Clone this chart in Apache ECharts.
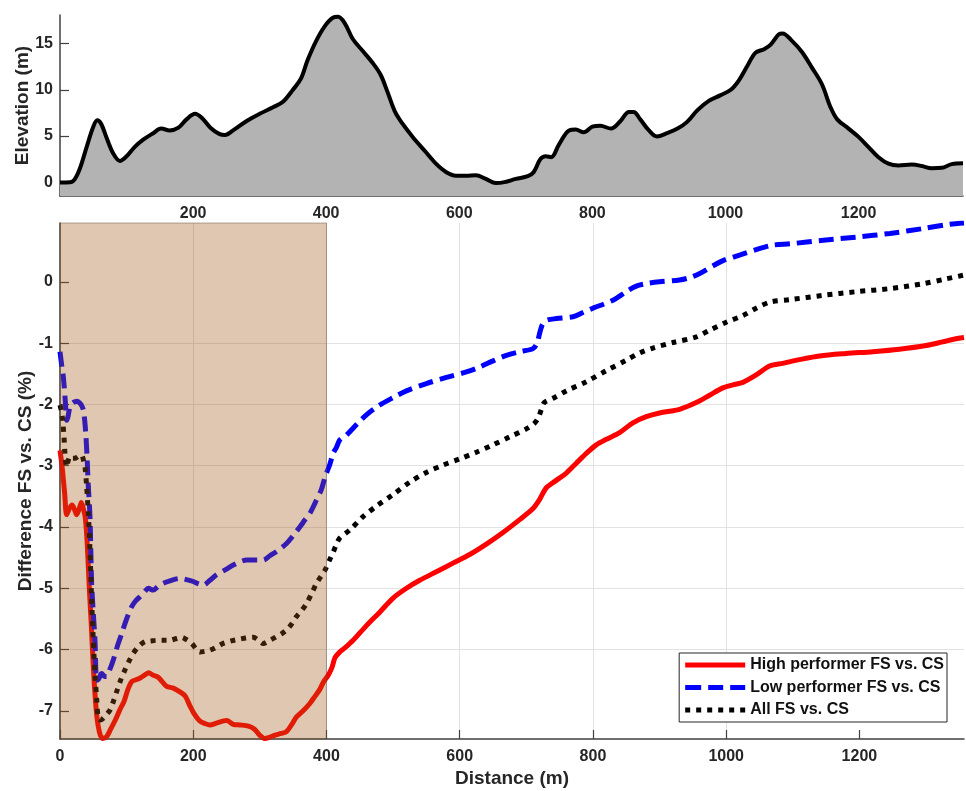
<!DOCTYPE html>
<html>
<head>
<meta charset="utf-8">
<script src="https://cdn.jsdelivr.net/npm/echarts@6/dist/echarts.min.js"></script>
<style>
  html, body { margin: 0; padding: 0; background: #fff; }
  #chart { width: 966px; height: 791px; }
</style>
</head>
<body>
<div id="chart"></div>
<script>
// Course elevation profile: [distance (m), elevation (m)]
const elevationProfile = [
  [0, -0.05], [15, -0.02], [22, 0.3], [30, 1.5], [40, 3.8], [50, 6.0], [56, 6.7], [62, 6.3],
  [70, 4.8], [80, 3.1], [90, 2.3], [100, 2.8], [112, 3.8], [125, 4.6], [140, 5.3], [152, 5.8],
  [165, 5.6], [178, 5.9], [190, 6.8], [203, 7.4], [214, 6.9], [226, 5.9], [240, 5.2], [248, 5.1],
  [260, 5.6], [280, 6.6], [300, 7.4], [320, 8.1], [335, 8.7], [350, 10.0], [362, 11.2],
  [372, 13.2], [385, 15.3], [398, 16.9], [410, 17.8], [418, 17.9], [428, 17.2], [440, 15.5],
  [455, 14.2], [470, 12.9], [482, 11.6], [492, 9.8], [503, 7.7], [515, 6.3], [530, 4.9],
  [548, 3.4], [565, 2.0], [580, 1.1], [595, 0.7], [610, 0.7], [625, 0.75], [640, 0.35],
  [655, -0.1], [668, 0.0], [685, 0.35], [703, 0.65], [712, 1.1], [722, 2.5], [730, 2.8],
  [738, 2.7], [750, 4.1], [765, 5.6], [775, 5.7], [787, 5.4], [800, 6.0], [812, 6.1], [828, 5.8],
  [842, 6.6], [855, 7.6], [862, 7.6], [872, 6.8], [885, 5.6], [897, 4.95], [912, 5.3],
  [928, 5.8], [942, 6.5], [958, 7.8], [975, 8.8], [992, 9.4], [1008, 10.0], [1020, 11.0],
  [1033, 12.6], [1045, 14.0], [1058, 14.4], [1068, 14.9], [1080, 16.0], [1086, 16.1],
  [1100, 15.3], [1115, 14.1], [1130, 12.4], [1145, 10.6], [1158, 8.1], [1168, 6.8], [1185, 5.8],
  [1200, 4.9], [1215, 3.8], [1230, 2.7], [1245, 2.0], [1260, 1.8], [1280, 1.9], [1295, 1.75],
  [1310, 1.5], [1325, 1.55], [1340, 1.95], [1357, 2.05]
];

// Difference FS vs. CS (%) along the course: [distance (m), difference (%)]
const highPerformer = [
  [0, -2.75], [3, -3.0], [7, -3.45], [10, -3.8], [14, -3.7], [18, -3.64], [22, -3.72], [25, -3.8],
  [29, -3.7], [32, -3.6], [35, -3.7], [38, -3.85], [41, -4.3], [44, -5.0], [47, -5.6], [50, -6.28],
  [53, -6.8], [56, -7.15], [60, -7.38], [64, -7.45], [70, -7.42], [76, -7.3], [83, -7.15],
  [90, -6.98], [96, -6.85], [102, -6.65], [108, -6.52], [115, -6.49], [121, -6.46], [128, -6.41],
  [133, -6.38], [140, -6.42], [147, -6.45], [153, -6.52], [160, -6.6], [170, -6.63], [180, -6.69],
  [188, -6.76], [195, -6.92], [202, -7.06], [210, -7.17], [218, -7.21], [225, -7.23], [235, -7.2],
  [250, -7.16], [260, -7.22], [270, -7.23], [283, -7.25], [292, -7.3], [300, -7.4], [307, -7.45],
  [315, -7.43], [322, -7.4], [332, -7.37], [340, -7.34], [348, -7.22], [355, -7.1], [365, -7.0],
  [375, -6.88], [383, -6.76], [390, -6.65], [396, -6.52], [402, -6.43], [408, -6.3], [413, -6.13],
  [420, -6.04], [428, -5.97], [440, -5.85], [460, -5.61], [480, -5.39], [500, -5.16], [520, -5.0],
  [540, -4.87], [565, -4.73], [590, -4.59], [615, -4.45], [640, -4.28], [665, -4.09], [690, -3.88],
  [710, -3.7], [720, -3.55], [730, -3.36], [745, -3.24], [760, -3.12], [775, -2.96], [790, -2.8],
  [805, -2.66], [820, -2.57], [840, -2.46], [860, -2.3], [880, -2.2], [900, -2.14], [930, -2.08],
  [955, -1.97], [975, -1.85], [995, -1.73], [1010, -1.68], [1025, -1.64], [1045, -1.52],
  [1066, -1.37], [1085, -1.33], [1110, -1.27], [1140, -1.21], [1180, -1.17], [1220, -1.14],
  [1260, -1.1], [1300, -1.04], [1325, -0.98], [1340, -0.94], [1357, -0.91]
];

const lowPerformer = [
  [0, -1.14], [3, -1.4], [5, -1.55], [8, -1.95], [10, -2.26], [12, -2.2], [15, -2.04], [19, -1.98],
  [22, -1.96], [26, -1.95], [30, -1.98], [33, -2.03], [35, -2.09], [37, -2.25], [39, -2.53],
  [41, -2.95], [42.5, -3.34], [45, -3.83], [47.5, -4.92], [50, -5.4], [52.5, -5.85], [55, -6.5],
  [58, -6.48], [62.5, -6.39], [67, -6.44], [70, -6.44], [75, -6.32], [80, -6.17], [86, -5.95],
  [92.6, -5.74], [100, -5.5], [107.7, -5.3], [114, -5.2], [120, -5.14], [127, -5.06], [132.6, -5.0],
  [140, -5.03], [147, -4.97], [155, -4.92], [165, -4.88], [180, -4.84], [190, -4.86], [200, -4.89],
  [208, -4.93], [215, -4.95], [225, -4.87], [235, -4.78], [248, -4.7], [260, -4.62], [270, -4.57],
  [280, -4.54], [295, -4.54], [305, -4.54], [315, -4.47], [325, -4.4], [340, -4.27], [350, -4.14],
  [360, -4.0], [368, -3.88], [375, -3.78], [385, -3.56], [392, -3.4], [398, -3.18], [405, -2.98],
  [410, -2.8], [415, -2.7], [420, -2.58], [430, -2.5], [445, -2.33], [460, -2.17], [480, -2.01],
  [500, -1.89], [520, -1.78], [550, -1.66], [580, -1.56], [610, -1.47], [630, -1.39], [650, -1.29],
  [670, -1.2], [690, -1.14], [710, -1.09], [716, -1.0], [720, -0.84], [724, -0.7], [730, -0.63],
  [745, -0.6], [770, -0.57], [785, -0.5], [800, -0.43], [830, -0.3], [850, -0.16], [865, -0.07],
  [880, -0.03], [900, 0.0], [930, 0.03], [946, 0.07], [961, 0.14], [980, 0.26], [996, 0.35],
  [1021, 0.44], [1046, 0.53], [1071, 0.6], [1096, 0.62], [1146, 0.68], [1196, 0.73], [1246, 0.79],
  [1296, 0.87], [1336, 0.94], [1357, 0.96]
];

const allRunners = [
  [0, -2.01], [2, -2.1], [4, -2.26], [6, -2.53], [7.5, -2.8], [10, -3.02], [12, -2.93], [15, -2.85],
  [19, -2.88], [22.5, -2.88], [27, -2.85], [32.5, -2.83], [35, -2.9], [37.5, -3.02], [40, -3.34],
  [42.5, -3.78], [44, -4.1], [46, -4.7], [47.5, -5.19], [50, -5.85], [52.5, -6.39], [55, -6.8],
  [57.5, -7.12], [61, -7.15], [65, -7.12], [70, -7.06], [75, -6.99], [80, -6.85], [85, -6.69],
  [91, -6.5], [97.6, -6.33], [104, -6.18], [110, -6.06], [118, -5.95], [127.6, -5.87], [136, -5.86],
  [145, -5.85], [155, -5.85], [165, -5.85], [175, -5.82], [182.7, -5.8], [190, -5.84],
  [197.7, -5.9], [205, -6.0], [210, -6.04], [217, -6.03], [225, -6.01], [235, -5.96], [245, -5.9],
  [257, -5.86], [270, -5.83], [280, -5.81], [290, -5.8], [298, -5.85], [305, -5.9], [315, -5.85],
  [325, -5.79], [333, -5.74], [340, -5.68], [348, -5.58], [355, -5.46], [363, -5.36], [370, -5.25],
  [378, -5.08], [385, -4.92], [392, -4.8], [398, -4.7], [405, -4.53], [410.5, -4.4], [415, -4.28],
  [420, -4.18], [435, -4.05], [455, -3.83], [475, -3.66], [500, -3.47], [525, -3.27], [550, -3.11],
  [575, -2.99], [600, -2.89], [625, -2.78], [650, -2.66], [675, -2.53], [700, -2.4], [712, -2.31],
  [718, -2.22], [722, -2.1], [727, -1.97], [740, -1.9], [760, -1.78], [790, -1.63], [820, -1.45],
  [850, -1.28], [870, -1.16], [890, -1.08], [920, -0.99], [955, -0.9], [975, -0.79], [1000, -0.66],
  [1025, -0.55], [1045, -0.43], [1066, -0.33], [1096, -0.29], [1146, -0.22], [1196, -0.16],
  [1246, -0.11], [1296, -0.03], [1331, 0.05], [1357, 0.11]
];

// Highlighted stretch of the course (m)
const highlightedStretch = [0, 400];

// Tick values
const distanceTicks = [0, 200, 400, 600, 800, 1000, 1200];
const elevationTicks = [0, 5, 10, 15];
const differenceTicks = [-7, -6, -5, -4, -3, -2, -1, 0];

const seriesNames = ['High performer FS vs. CS', 'Low performer FS vs. CS', 'All FS vs. CS'];

const distRange = [0, 1357];
const elevRange = [-1.5, 18.1];
const diffRange = [-7.46, 0.96];

const FONT = '"Liberation Sans", Arial, sans-serif';
const AXIS_COLOR = '#404040';
const TEXT_COLOR = '#262626';

// Legend glyphs: solid bar, dashes, square dots (60 x 5 units)
const legendIcons = [
  'path://M0,0H60V5H0Z',
  'path://M0,0H16V5H0Z M23,0H38V5H23Z M45,0H60V5H45Z',
  'path://M0,0H5V5H0Z M11,0H16V5H11Z M22,0H27V5H22Z M33,0H38V5H33Z M44,0H49V5H44Z M55,0H60V5H55Z'
];

const tickFmt = (list) => (v) => (list.some(t => Math.abs(t - v) < 1e-6) ? String(v) : '');

function valueAxis(extra) {
  return Object.assign({
    type: 'value',
    axisLine: { show: true, onZero: false, lineStyle: { color: AXIS_COLOR, width: 1.5 } },
    nameTextStyle: { color: TEXT_COLOR, fontSize: 19, fontWeight: 'bold', fontFamily: FONT },
    nameMoveOverlap: false,
    splitLine: { show: false }
  }, extra);
}

function ticks(values) {
  return { show: true, inside: true, length: 9, customValues: values,
    lineStyle: { color: AXIS_COLOR, width: 1.2 } };
}

function labels(values, margin) {
  return { color: TEXT_COLOR, fontSize: 16, fontWeight: 'bold', fontFamily: FONT, margin: margin,
    customValues: values, formatter: tickFmt(values) };
}

const gridLines = { show: true, showMinLine: false, showMaxLine: false,
  lineStyle: { color: '#e2e2e2', width: 1 } };

const chart = echarts.init(document.getElementById('chart'), null, { renderer: 'canvas' });

const option = {
  animation: false,
  backgroundColor: '#ffffff',
  grid: [
    { left: 60, right: 3, top: 15, height: 181, containLabel: false, outerBoundsMode: 'none' },
    { left: 60, right: 2, top: 223, bottom: 52, containLabel: false, outerBoundsMode: 'none' }
  ],
  xAxis: [
    valueAxis({
      gridIndex: 0, min: distRange[0], max: distRange[1], interval: 200,
      axisTick: ticks(distanceTicks.slice(1)),
      axisLabel: labels(distanceTicks.slice(1), 10)
    }),
    valueAxis({
      gridIndex: 1, min: distRange[0], max: distRange[1], interval: 200,
      name: 'Distance (m)', nameLocation: 'middle', nameGap: 30,
      axisTick: ticks(distanceTicks),
      axisLabel: labels(distanceTicks, 10),
      splitLine: gridLines
    })
  ],
  yAxis: [
    valueAxis({
      gridIndex: 0, min: elevRange[0], max: elevRange[1], splitNumber: 4,
      name: 'Elevation (m)', nameLocation: 'middle', nameGap: 28, nameRotate: 90,
      axisTick: ticks(elevationTicks),
      axisLabel: labels(elevationTicks, 7)
    }),
    valueAxis({
      gridIndex: 1, min: diffRange[0], max: diffRange[1], splitNumber: 8,
      name: 'Difference FS vs. CS (%)', nameLocation: 'middle', nameGap: 25, nameRotate: 90,
      axisTick: ticks(differenceTicks),
      axisLabel: labels(differenceTicks, 7),
      splitLine: gridLines
    })
  ],
  legend: {
    data: seriesNames.map((name, i) => ({ name: name, icon: legendIcons[i] })),
    orient: 'vertical',
    right: 19,
    bottom: 69,
    itemWidth: 60,
    itemHeight: 14,
    itemGap: 6.5,
    symbolKeepAspect: true,
    padding: [4, 3, 4, 6],
    borderColor: '#262626',
    borderWidth: 1,
    borderRadius: 0,
    backgroundColor: '#ffffff',
    z: 20,
    textStyle: { color: '#111', fontSize: 16, fontWeight: 'bold', fontFamily: FONT }
  },
  series: [
    {
      name: 'Elevation',
      type: 'line',
      xAxisIndex: 0, yAxisIndex: 0,
      data: elevationProfile,
      smooth: 0.35,
      symbol: 'none',
      lineStyle: { color: '#000', width: 4, join: 'round' },
      areaStyle: { color: '#b3b3b3', opacity: 1, origin: 'start' },
      z: 2
    },
    {
      name: seriesNames[0],
      type: 'line',
      xAxisIndex: 1, yAxisIndex: 1,
      data: highPerformer,
      smooth: 0.3,
      symbol: 'none',
      color: '#ff0000',
      lineStyle: { color: '#ff0000', width: 5, join: 'round' },
      z: 3
    },
    {
      name: seriesNames[1],
      type: 'line',
      xAxisIndex: 1, yAxisIndex: 1,
      data: lowPerformer,
      smooth: 0.3,
      symbol: 'none',
      color: '#0000ff',
      lineStyle: { color: '#0000ff', width: 5, type: [15, 7], cap: 'butt' },
      z: 3
    },
    {
      name: seriesNames[2],
      type: 'line',
      xAxisIndex: 1, yAxisIndex: 1,
      data: allRunners,
      smooth: 0.3,
      symbol: 'none',
      color: '#000000',
      lineStyle: { color: '#000000', width: 5, type: [5, 6], cap: 'butt' },
      z: 3
    },
    {
      // translucent band laid over the first part of the course
      name: 'Highlighted stretch',
      type: 'custom',
      xAxisIndex: 1, yAxisIndex: 1,
      silent: true,
      z: 6,
      data: [highlightedStretch],
      encode: { x: [0, 1] },
      renderItem: function (params, api) {
        const p0 = api.coord([api.value(0), diffRange[1]]);
        const p1 = api.coord([api.value(1), diffRange[0]]);
        return {
          type: 'rect',
          shape: { x: p0[0], y: p0[1], width: p1[0] - p0[0], height: p1[1] - p0[1] },
          style: { fill: 'rgba(160,85,20,0.33)', stroke: 'rgba(90,70,50,0.45)', lineWidth: 1 }
        };
      }
    }
  ]
};

chart.setOption(option);
</script>
</body>
</html>
